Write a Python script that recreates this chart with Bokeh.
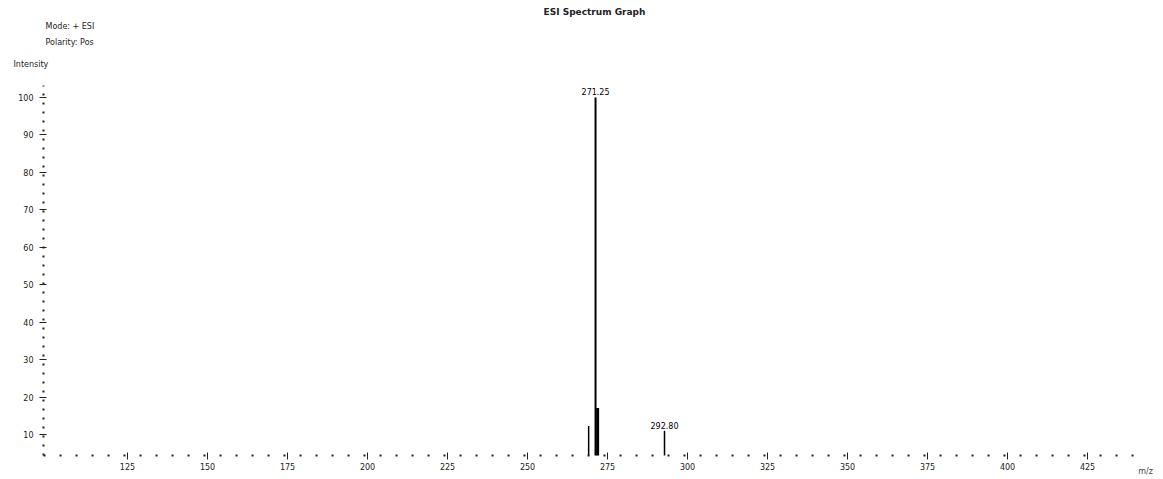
from bokeh.plotting import figure
from bokeh.models import Title, Range1d, FixedTicker, ColumnDataSource
from bokeh.core.properties import value
from bokeh.embed import file_html
from bokeh.resources import INLINE

# data
mz = [269.1, 271.25, 271.9, 292.8]
intensity = [12.3, 100.0, 17.1, 11.0]
widths = [1.5, 2.0, 3.0, 1.5]
peak_labels_mz = [271.25, 292.8]
peak_labels_int = [100.0, 11.0]
peak_labels = ["271.25", "292.80"]
x_ticks = [125, 150, 175, 200, 225, 250, 275, 300, 325, 350, 375, 400, 425]
y_ticks = [10, 20, 30, 40, 50, 60, 70, 80, 90, 100]

title_text = "ESI Spectrum Graph"
info_lines = ["Mode: + ESI", "Polarity: Pos"]
y_label = "Intensity"
x_label = "m/z"

FONT = "DejaVu Sans"
X0, X1 = 98.75, 443.1
Y0, Y1 = 4.4, 103.2

p = figure(width=1163, height=479, output_backend="svg", toolbar_location=None,
           x_range=Range1d(X0, X1), y_range=Range1d(Y0, Y1),
           min_border_left=43, min_border_right=18, min_border_top=85, min_border_bottom=24)
p.outline_line_color = None
p.xgrid.visible = False
p.ygrid.visible = False

src = ColumnDataSource(dict(x=mz, y0=[0] * len(mz), y1=intensity, w=widths))
p.segment(x0="x", y0="y0", x1="x", y1="y1", line_width="w", line_color="black", source=src)

lsrc = ColumnDataSource(dict(x=peak_labels_mz, y=peak_labels_int, t=peak_labels))
p.text(x="x", y="y", text="t", source=lsrc, text_align="center", text_baseline="bottom",
       y_offset=-2, text_font_size="8px", text_color="black", text_font=value(FONT))

for ax, dash in ((p.xaxis, "2 14"), (p.yaxis, "2 7")):
    ax.axis_line_dash = dash
    ax.axis_line_width = 2
    ax.axis_line_color = "#222222"
    ax.major_tick_line_color = "#222222"
    ax.major_tick_in = 3
    ax.major_tick_out = 4
    ax.minor_tick_line_color = None
    ax.major_label_text_font = FONT
    ax.major_label_text_font_size = "8px"
    ax.major_label_text_color = "#222222"

p.xaxis.ticker = FixedTicker(ticks=x_ticks)
p.yaxis.ticker = FixedTicker(ticks=y_ticks)
p.xaxis.major_label_standoff = 3
p.yaxis.major_label_standoff = 6

# the figure's own title is the outermost row
p.title.text = title_text
p.title.align = "center"
p.title.standoff = 1
p.title.text_font = FONT
p.title.text_font_size = "9px"
p.title.text_font_style = "bold"
p.title.text_color = "#222222"

# added rows: first added sits closest to the frame (a thin blank spacer first)
p.add_layout(Title(text=" ", align="left", standoff=0, text_font=FONT,
                   text_font_size="6px", text_font_style="normal"), "above")
p.add_layout(Title(text=y_label, align="left", offset=-30, standoff=16, text_font=FONT,
                   text_font_size="8px", text_font_style="normal", text_color="#222222"), "above")
p.add_layout(Title(text=info_lines[1], align="left", offset=2, standoff=5, text_font=FONT,
                   text_font_size="8px", text_font_style="normal", text_color="#222222"), "above")
p.add_layout(Title(text=info_lines[0], align="left", offset=2, standoff=5, text_font=FONT,
                   text_font_size="8px", text_font_style="normal", text_color="#222222"), "above")

xa = p.xaxis[0]
xa.axis_label = x_label
xa.axis_label_text_font = FONT
xa.axis_label_text_font_size = "8px"
xa.axis_label_text_font_style = "normal"
xa.axis_label_standoff = -6
xa.axis_label_align = "end"

open("out.html", "w").write(file_html(p, INLINE))
